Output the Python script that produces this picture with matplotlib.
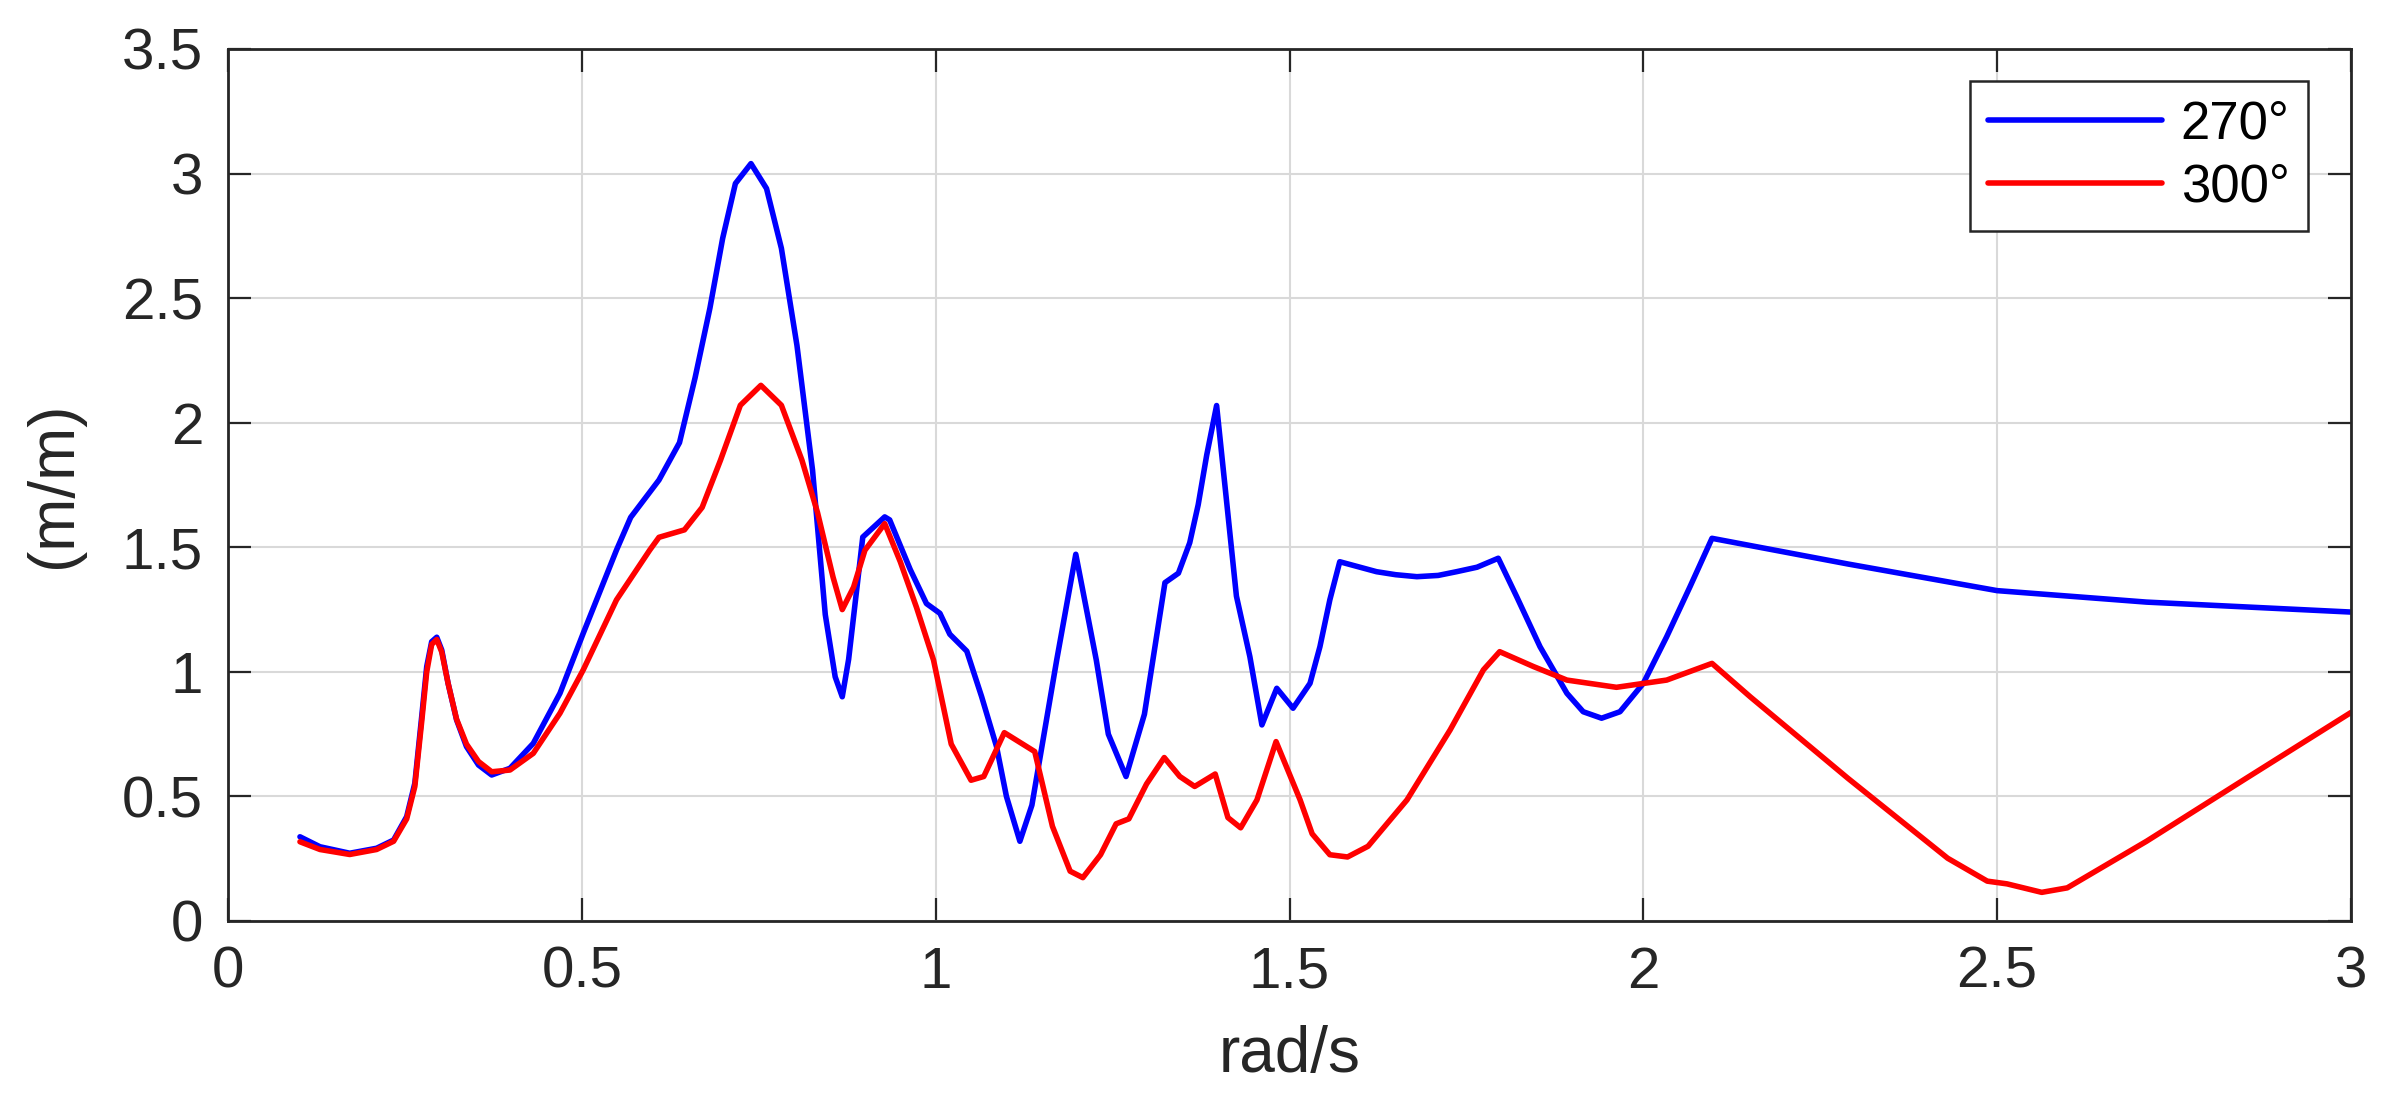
import matplotlib
matplotlib.use("Agg")
import matplotlib.pyplot as plt

plt.rcParams['font.family'] = ['Liberation Sans', 'DejaVu Sans']

x_270 = [0.1017, 0.130, 0.172, 0.210, 0.234, 0.2525, 0.264, 0.2737, 0.2808, 0.2878, 0.295, 0.302,
         0.311, 0.323, 0.337, 0.354, 0.3726, 0.3985, 0.4314, 0.4691, 0.502, 0.549, 0.569, 0.609,
         0.638, 0.660, 0.681, 0.699, 0.717, 0.739, 0.761, 0.782, 0.804, 0.826, 0.844, 0.858,
         0.868, 0.877, 0.897, 0.928, 0.935, 0.964, 0.987, 1.006, 1.020, 1.044, 1.065, 1.086,
         1.10, 1.119, 1.136, 1.171, 1.198, 1.227, 1.244, 1.269, 1.295, 1.324, 1.343, 1.359,
         1.371, 1.383, 1.397, 1.411, 1.425, 1.444, 1.461, 1.482, 1.505, 1.529, 1.543, 1.557,
         1.571, 1.623, 1.650, 1.680, 1.710, 1.736, 1.765, 1.795, 1.821, 1.854, 1.892, 1.915,
         1.941, 1.967, 2.0, 2.033, 2.066, 2.097, 2.289, 2.5, 2.711, 3.0]
y_270 = [0.338, 0.298, 0.272, 0.292, 0.325, 0.419, 0.553, 0.82, 1.021, 1.121, 1.139, 1.088,
         0.954, 0.807, 0.70, 0.626, 0.586, 0.613, 0.713, 0.914, 1.155, 1.489, 1.62, 1.77,
         1.92, 2.18, 2.46, 2.74, 2.96, 3.04, 2.94, 2.70, 2.31, 1.81, 1.23, 0.98,
         0.90, 1.05, 1.541, 1.622, 1.61, 1.411, 1.274, 1.235, 1.151, 1.083, 0.90, 0.70,
         0.50, 0.32, 0.465, 1.047, 1.472, 1.047, 0.75, 0.58, 0.83, 1.358, 1.396, 1.518,
         1.671, 1.87, 2.069, 1.687, 1.304, 1.061, 0.787, 0.934, 0.854, 0.954, 1.101, 1.289,
         1.442, 1.402, 1.39, 1.382, 1.387, 1.402, 1.42, 1.456, 1.302, 1.101, 0.914, 0.840,
         0.814, 0.840, 0.954, 1.141, 1.342, 1.536, 1.433, 1.326, 1.28, 1.24]

x_300 = [0.1017, 0.130, 0.172, 0.210, 0.234, 0.2525, 0.264, 0.2737, 0.2808, 0.2878, 0.295, 0.302,
         0.311, 0.323, 0.337, 0.354, 0.3726, 0.3985, 0.4314, 0.4691, 0.502, 0.549, 0.596, 0.609,
         0.645, 0.670, 0.696, 0.724, 0.753, 0.782, 0.811, 0.833, 0.855, 0.868, 0.884, 0.900,
         0.928, 0.950, 0.973, 0.997, 1.022, 1.05, 1.068, 1.097, 1.14, 1.165, 1.19, 1.208,
         1.233, 1.255, 1.273, 1.298, 1.323, 1.345, 1.366, 1.395, 1.413, 1.431, 1.454, 1.481,
         1.515, 1.532, 1.557, 1.582, 1.611, 1.666, 1.727, 1.774, 1.797, 1.845, 1.892, 1.962,
         2.033, 2.097, 2.151, 2.289, 2.43, 2.486, 2.514, 2.563, 2.599, 2.711, 2.852, 3.0]
y_300 = [0.318, 0.287, 0.267, 0.287, 0.32, 0.41, 0.54, 0.80, 1.0, 1.11, 1.13, 1.08,
         0.954, 0.81, 0.71, 0.64, 0.599, 0.606, 0.673, 0.834, 1.008, 1.289, 1.489, 1.54,
         1.57, 1.66, 1.85, 2.07, 2.15, 2.07, 1.85, 1.64, 1.38, 1.25, 1.34, 1.488,
         1.595, 1.442, 1.258, 1.047, 0.71, 0.565, 0.58, 0.756, 0.68, 0.38, 0.20, 0.174,
         0.266, 0.39, 0.41, 0.55, 0.656, 0.58, 0.54, 0.59, 0.415, 0.374, 0.486, 0.72,
         0.486, 0.35, 0.266, 0.257, 0.30, 0.486, 0.767, 1.008, 1.081, 1.021, 0.967, 0.938,
         0.967, 1.034, 0.90, 0.573, 0.252, 0.16, 0.149, 0.115, 0.133, 0.32, 0.573, 0.837]

series_labels = ['270°', '300°']
x_ticks = [0, 0.5, 1, 1.5, 2, 2.5, 3]
x_ticklabels = ['0', '0.5', '1', '1.5', '2', '2.5', '3']
y_ticks = [0, 0.5, 1, 1.5, 2, 2.5, 3, 3.5]
y_ticklabels = ['0', '0.5', '1', '1.5', '2', '2.5', '3', '3.5']

W, H = 2384, 1108
fig = plt.figure(figsize=(W / 100, H / 100), dpi=100)
ax = fig.add_axes([228 / W, 1 - 921 / H, (2351 - 228) / W, (921 - 49) / H])

ax.plot(x_270, y_270, color=(0, 0, 1), lw=4.0, label=series_labels[0],
        solid_joinstyle='round', solid_capstyle='round')
ax.plot(x_300, y_300, color=(1, 0, 0), lw=4.0, label=series_labels[1],
        solid_joinstyle='round', solid_capstyle='round')

ax.set_xlim(0, 3)
ax.set_ylim(0, 3.5)
ax.set_xticks(x_ticks)
ax.set_xticklabels(x_ticklabels)
ax.set_yticks(y_ticks)
ax.set_yticklabels(y_ticklabels)

dark = (0.15, 0.15, 0.15)
for s in ax.spines.values():
    s.set_linewidth(2.0)
    s.set_color(dark)
ax.tick_params(direction='in', length=16.5, width=1.6, color=dark,
               labelsize=42, labelcolor=dark,
               top=True, right=True, pad=18)
ax.grid(True, color=(0.85, 0.85, 0.85), lw=1.5)
ax.set_axisbelow(True)

ax.set_xlabel('rad/s', fontsize=46, color=dark)
ax.set_ylabel('(m/m)', fontsize=46, color=dark)
ax.xaxis.set_label_coords(0.5, -0.119)
ax.yaxis.set_label_coords(-0.068, 0.5)

leg = ax.legend(loc='upper right', bbox_to_anchor=(2308 / W, 1 - 81 / H),
                bbox_transform=fig.transFigure, borderaxespad=0,
                fontsize=38, frameon=True, fancybox=False, framealpha=1,
                handlelength=3.3, handletextpad=0.35, labelspacing=0.25,
                borderpad=0.35)
leg.get_frame().set_edgecolor(dark)
leg.get_frame().set_linewidth(1.8)

fig.savefig('out.png', dpi=100)
